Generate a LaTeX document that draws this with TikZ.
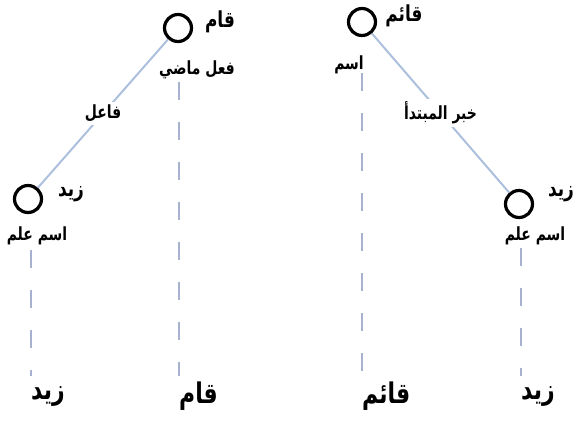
\documentclass[tikz,border=0pt]{standalone}
\usepackage{fontspec}
\usepackage{graphicx}
\TeXXeTstate=1
\newfontfamily\arabicfont[Script=Arabic]{DejaVu Sans}
\definecolor{linkblue}{RGB}{172,192,222}
\definecolor{dashgrey}{RGB}{168,178,208}
\tikzset{
  wordnode/.style={circle, draw=black, line width=3.2bp, minimum size=27bp, inner sep=0},
  tag/.style={font=\arabicfont\bfseries\fontsize{17}{19}\selectfont, inner sep=1bp},
  role/.style={font=\arabicfont\bfseries\fontsize{14}{16}\selectfont, inner sep=1bp},
  linklabel/.style={font=\arabicfont\bfseries\fontsize{14}{16}\selectfont, fill=white, inner sep=3bp},
  baseword/.style={font=\arabicfont\bfseries\fontsize{22}{25}\selectfont, inner sep=0, anchor=west},
  link/.style={draw=linkblue, line width=2bp},
  guide/.style={draw=dashgrey, line width=2.4bp, dash pattern=on 18bp off 22bp}
}
% Arabic text, set right to left and drawn a little taller
\newcommand{\ar}[1]{\scalebox{1}[1.3]{\beginR #1\endR}}
\begin{document}
\begin{tikzpicture}[x=1bp, y=-1bp]
\useasboundingbox (0,0) rectangle (573,420);

% verbal sentence: qama zaydun
\node[wordnode] (qam) at (178,28) {};
\node[tag] (qamT) at (220,22) {\ar{قام}};
\node[role] (qamR) at (197,70) {\ar{فعل ماضي}};
\node[wordnode] (zayd1) at (28,199) {};
\node[tag] (zayd1T) at (71,194) {\ar{زيد}};
\node[role] (zayd1R) at (37,236) {\ar{اسم علم}};
\path[link] (qam) -- node[linklabel] (faail) {\ar{فاعل}} (zayd1);

% nominal sentence: zaydun qa'imun
\node[wordnode] (qaim) at (362,22) {};
\node[tag] (qaimT) at (404,16) {\ar{قائم}};
\node[role] (qaimR) at (349,65) {\ar{اسم}};
\node[wordnode] (zayd2) at (519,204) {};
\node[tag] (zayd2T) at (561,194) {\ar{زيد}};
\node[role] (zayd2R) at (535,236) {\ar{اسم علم}};
\path[link] (qaim) -- node[linklabel] (khabar) {\ar{خبر المبتدأ}} (zayd2);

% words of the sentence along the baseline
\node[baseword] (w1) at (31,396) {\ar{زيد}};
\node[baseword] (w2) at (179,396) {\ar{قام}};
\node[baseword] (w3) at (362,396) {\ar{قائم}};
\node[baseword] (w4) at (521,396) {\ar{زيد}};

% projection guides from each node down to its word
\coordinate (g1a) at (31,250);  \coordinate (g1b) at (31,376);
\coordinate (g2a) at (179,82);  \coordinate (g2b) at (179,376);
\coordinate (g3a) at (362,73);  \coordinate (g3b) at (362,376);
\coordinate (g4a) at (521,248); \coordinate (g4b) at (521,376);
\draw[guide] (g1a) -- (g1b);
\draw[guide] (g2a) -- (g2b);
\draw[guide] (g3a) -- (g3b);
\draw[guide] (g4a) -- (g4b);
\end{tikzpicture}
\end{document}
